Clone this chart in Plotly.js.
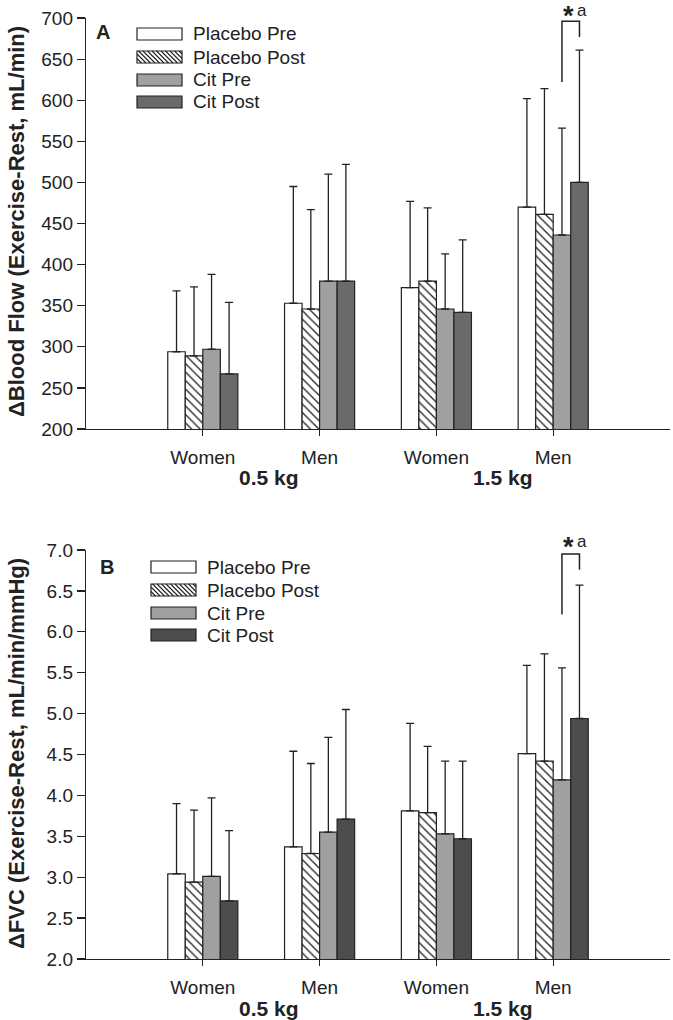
<!DOCTYPE html>
<html><head><meta charset="utf-8">
<script src="https://cdn.plot.ly/plotly-3.0.1.min.js"></script>
<style>html,body{margin:0;padding:0;background:#fff}</style>
</head><body><div id="chart" style="width:673px;height:1020px"></div>
<script>
// ---------- data ----------
const categories = ['Women', 'Men', 'Women', 'Men'];
const loadLabels = ['0.5 kg', '1.5 kg'];
const seriesNames = ['Placebo Pre', 'Placebo Post', 'Cit Pre', 'Cit Post'];

// Panel A: ΔBlood Flow (mL/min)
const flowPlaceboPre    = [294, 353, 372, 470];
const flowPlaceboPreSD  = [74, 142, 105, 132];
const flowPlaceboPost   = [289, 346, 380, 461];
const flowPlaceboPostSD = [84, 121, 89, 153];
const flowCitPre        = [297, 380, 346, 436];
const flowCitPreSD      = [91, 130, 67, 130];
const flowCitPost       = [267, 380, 342, 500];
const flowCitPostSD     = [87, 142, 88, 161];
const flowSigBracket    = [622, 696, 677];   // left foot, top, right foot

// Panel B: ΔFVC (mL/min/mmHg)
const fvcPlaceboPre    = [3.04, 3.37, 3.81, 4.51];
const fvcPlaceboPreSD  = [0.86, 1.17, 1.07, 1.08];
const fvcPlaceboPost   = [2.94, 3.29, 3.79, 4.42];
const fvcPlaceboPostSD = [0.88, 1.10, 0.81, 1.31];
const fvcCitPre        = [3.01, 3.55, 3.53, 4.19];
const fvcCitPreSD      = [0.96, 1.16, 0.89, 1.37];
const fvcCitPost       = [2.71, 3.71, 3.47, 4.94];
const fvcCitPostSD     = [0.86, 1.34, 0.95, 1.63];
const fvcSigBracket    = [6.21, 6.95, 6.76];

const sigGroupIndex = 3;          // 1.5 kg Men
const sigSeries = [2, 3];         // Cit Pre vs Cit Post

// ---------- styling ----------
const W = 673, H = 1020;
const FONT = 'Liberation Sans, Arial, Helvetica, sans-serif';
const INK = '#222';
const px = x => x / W;
const py = y => 1 - y / H;
const xIdx = categories.map((c, i) => i);
const BAR_W = 0.15;
const barX = (g, s) => g + (s - 1.5) * BAR_W;

const fillsA = ['#ffffff', '#ffffff', '#a0a0a0', '#6a6a6a'];
const fillsB = ['#ffffff', '#ffffff', '#a0a0a0', '#4d4d4d'];

function barTrace(name, y, sd, s, fills, xa, ya) {
  return {
    type: 'bar', name: name, x: xIdx, y: y, xaxis: xa, yaxis: ya,
    showlegend: false,
    marker: {
      color: fills[s],
      line: {color: INK, width: 1.2},
      pattern: s === 1 ? {shape: '\\', fgcolor: INK, bgcolor: '#ffffff', size: 6, solidity: 0.22} : undefined
    },
    error_y: {type: 'data', symmetric: false, array: sd, arrayminus: sd.map(() => 0),
              color: INK, thickness: 1.3, width: 4}
  };
}

const data = [
  barTrace(seriesNames[0], flowPlaceboPre, flowPlaceboPreSD, 0, fillsA, 'x', 'y'),
  barTrace(seriesNames[1], flowPlaceboPost, flowPlaceboPostSD, 1, fillsA, 'x', 'y'),
  barTrace(seriesNames[2], flowCitPre, flowCitPreSD, 2, fillsA, 'x', 'y'),
  barTrace(seriesNames[3], flowCitPost, flowCitPostSD, 3, fillsA, 'x', 'y'),
  barTrace(seriesNames[0], fvcPlaceboPre, fvcPlaceboPreSD, 0, fillsB, 'x2', 'y2'),
  barTrace(seriesNames[1], fvcPlaceboPost, fvcPlaceboPostSD, 1, fillsB, 'x2', 'y2'),
  barTrace(seriesNames[2], fvcCitPre, fvcCitPreSD, 2, fillsB, 'x2', 'y2'),
  barTrace(seriesNames[3], fvcCitPost, fvcCitPostSD, 3, fillsB, 'x2', 'y2')
];

function xAxis(anchor) {
  return {
    domain: [px(86), px(670)], range: [-1, 4], anchor: anchor,
    tickmode: 'array', tickvals: xIdx, ticktext: categories,
    ticks: 'outside', ticklen: 6, tickwidth: 1.2, tickcolor: INK,
    showline: true, linecolor: INK, linewidth: 1.2,
    showgrid: false, zeroline: false, fixedrange: true,
    tickfont: {family: FONT, size: 19, color: INK}, ticklabelstandoff: 5
  };
}
function yAxis(anchor, top, bottom, range, dtick, fmt) {
  return {
    domain: [py(bottom), py(top)], range: range, anchor: anchor,
    tick0: range[0], dtick: dtick, tickformat: fmt,
    ticks: 'outside', ticklen: 8, tickwidth: 1.2, tickcolor: INK,
    showline: true, linecolor: INK, linewidth: 1.2,
    showgrid: false, zeroline: false, fixedrange: true,
    tickfont: {family: FONT, size: 19, color: INK}
  };
}

const shapes = [];
const annotations = [];

// custom legends
function addLegend(fills, boxX0, textX, rows) {
  const bw = 45, bh = 12;
  seriesNames.forEach((name, s) => {
    const cy = rows[s];
    const x0 = boxX0, x1 = boxX0 + bw, yt = cy - bh / 2, yb = cy + bh / 2;
    shapes.push({type: 'rect', xref: 'paper', yref: 'paper',
      x0: px(x0), x1: px(x1), y0: py(yb), y1: py(yt),
      fillcolor: fills[s], line: {color: INK, width: 1.2}});
    if (s === 1) {
      let d = '';
      for (let c = x0 - bh + 4.5; c < x1; c += 4.5) {
        let sx = c, sy = yt, ex = c + bh, ey = yb;
        if (sx < x0) { sy = yt + (x0 - sx); sx = x0; }
        if (ex > x1) { ey = yb - (ex - x1); ex = x1; }
        d += `M${px(sx)},${py(sy)}L${px(ex)},${py(ey)}`;
      }
      shapes.push({type: 'path', xref: 'paper', yref: 'paper', path: d,
        line: {color: INK, width: 1.1}});
    }
    annotations.push({xref: 'paper', yref: 'paper', x: px(textX), y: py(cy),
      xanchor: 'left', yanchor: 'middle', showarrow: false, text: name,
      font: {family: FONT, size: 19, color: INK}});
  });
}
addLegend(fillsA, 137, 191, [34, 57, 80, 102]);
addLegend(fillsB, 151, 205, [567, 590, 613, 635]);

// panel letters
annotations.push({xref: 'paper', yref: 'paper', x: px(103), y: py(32), xanchor: 'center', yanchor: 'middle',
  showarrow: false, text: '<b>A</b>', font: {family: FONT, size: 20, color: INK}});
annotations.push({xref: 'paper', yref: 'paper', x: px(107), y: py(567), xanchor: 'center', yanchor: 'middle',
  showarrow: false, text: '<b>B</b>', font: {family: FONT, size: 20, color: INK}});

// y titles
annotations.push({xref: 'paper', yref: 'paper', x: px(16), y: py(222), xanchor: 'center', yanchor: 'middle',
  showarrow: false, textangle: -90, text: '<b>ΔBlood Flow (Exercise-Rest, mL/min)</b>',
  font: {family: FONT, size: 22, color: INK}});
annotations.push({xref: 'paper', yref: 'paper', x: px(16), y: py(754), xanchor: 'center', yanchor: 'middle',
  showarrow: false, textangle: -90, text: '<b>ΔFVC (Exercise-Rest, mL/min/mmHg)</b>',
  font: {family: FONT, size: 22, color: INK}});

// load group labels
[['x', 477], ['x2', 1008]].forEach(([xa, yy]) => {
  loadLabels.forEach((lab, k) => {
    annotations.push({xref: xa, yref: 'paper', x: 2 * k + 0.5 + 0.07, y: py(yy),
      xanchor: 'center', yanchor: 'middle', showarrow: false, text: '<b>' + lab + '</b>',
      font: {family: FONT, size: 21, color: INK}});
  });
});

// significance brackets
function addBracket(xa, ya, br, topY) {
  const xl = barX(sigGroupIndex, sigSeries[0]);
  const xr = barX(sigGroupIndex, sigSeries[1]);
  shapes.push({type: 'path', xref: xa, yref: ya,
    path: `M${xl},${br[0]}L${xl},${br[1]}L${xr},${br[1]}L${xr},${br[2]}`,
    line: {color: INK, width: 1.5}});
  const xm = (xl + xr) / 2;
  annotations.push({xref: xa, yref: 'paper', x: xm - 0.02, y: py(topY), xanchor: 'center', yanchor: 'top',
    showarrow: false, text: '<b>*</b>', font: {family: FONT, size: 27, color: INK},
    borderpad: 0});
  annotations.push({xref: xa, yref: 'paper', x: xm + 0.1, y: py(topY), xanchor: 'center', yanchor: 'top',
    showarrow: false, text: 'a', font: {family: FONT, size: 17, color: INK}, borderpad: 0});
}
addBracket('x', 'y', flowSigBracket, 0);
addBracket('x2', 'y2', fvcSigBracket, 531);

const layout = {
  width: W, height: H, margin: {l: 0, r: 0, t: 0, b: 0},
  paper_bgcolor: '#fff', plot_bgcolor: '#fff',
  barmode: 'group', bargap: 0.4, bargroupgap: 0,
  showlegend: false,
  font: {family: FONT, color: INK},
  xaxis: xAxis('y'), yaxis: yAxis('x', 18, 429, [200, 700], 50, 'd'),
  xaxis2: xAxis('y2'), yaxis2: yAxis('x2', 550, 959, [2, 7], 0.5, '.1f'),
  shapes: shapes, annotations: annotations
};

Plotly.newPlot('chart', data, layout, {staticPlot: true, displayModeBar: false});
</script></body></html>
